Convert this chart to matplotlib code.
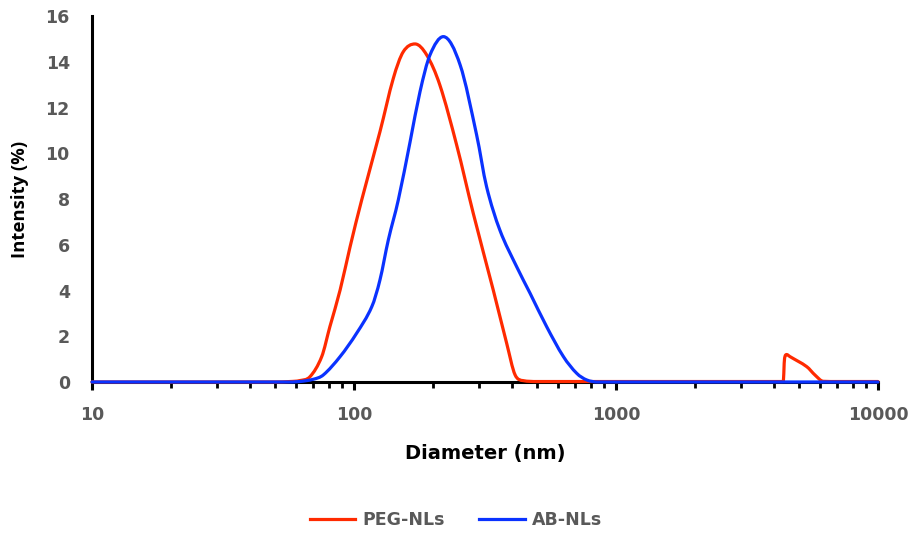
import numpy as np
import matplotlib.pyplot as plt
from matplotlib.path import Path
from matplotlib.patches import PathPatch
from matplotlib.lines import Line2D
from matplotlib.ticker import LogLocator, NullFormatter, FixedLocator

plt.rcParams["font.family"] = ["DejaVu Sans"]
plt.rcParams["font.weight"] = "bold"

# size distribution by intensity (nm, %)
peg_d = [10, 30, 50, 57, 62, 67.9, 75.3, 80.9, 88.5, 96.6, 107, 125.6, 141.3,
         154.2, 171, 189.4, 212.7, 246.5, 285.3, 340, 382.6, 412, 442, 500,
         1000, 2000, 4300, 4355, 4385, 4416, 4478, 4613, 5346, 5754, 6180,
         7000, 10000]
peg_i = [0, 0, 0, 0.02, 0.06, 0.23, 1.11, 2.42, 4.02, 5.91, 7.96, 10.94, 13.28,
         14.44, 14.78, 14.3, 12.98, 10.36, 7.37, 4.02, 1.69, 0.31, 0.06, 0.02,
         0.02, 0.02, 0.02, 0.05, 0.82, 1.12, 1.2, 1.11, 0.67, 0.3, 0.03,
         0.02, 0.02]

ab_d = [10, 30, 55, 62, 70, 76.4, 88.5, 102.3, 116.9, 125.6, 135.2, 147.6,
        163.7, 178.6, 195, 219.3, 254.2, 293.8, 320.6, 360.4, 417.7, 469.9,
        543.6, 629.9, 708, 773, 850, 1000, 3000, 10000]
ab_i = [0, 0, 0, 0.02, 0.12, 0.31, 1.11, 2.13, 3.29, 4.46, 6.21, 7.96, 10.5,
        12.69, 14.3, 15.1, 13.86, 10.8, 8.54, 6.64, 5.04, 3.88, 2.42, 1.11,
        0.38, 0.09, 0.0, 0, 0, 0]

labels = ["PEG-NLs", "AB-NLs"]
colors = ["#ff2a00", "#0a32ff"]
grey = "#595959"


def smooth_path(d, y):
    # cubic Hermite through the points in log10(d), drawn as Bezier segments
    u = np.log10(d)
    v = np.asarray(y, float)
    h = np.diff(u)
    delta = np.diff(v) / h
    m = np.zeros_like(v)
    m[0], m[-1] = delta[0], delta[-1]
    for k in range(1, len(v) - 1):
        if delta[k - 1] * delta[k] > 0:
            c = (v[k + 1] - v[k - 1]) / (u[k + 1] - u[k - 1])
            lim = 3 * min(abs(delta[k - 1]), abs(delta[k]))
            m[k] = np.sign(c) * min(abs(c), lim)
    verts = [(u[0], v[0])]
    codes = [Path.MOVETO]
    for k in range(len(v) - 1):
        verts += [(u[k] + h[k] / 3, v[k] + m[k] * h[k] / 3),
                  (u[k + 1] - h[k] / 3, v[k + 1] - m[k + 1] * h[k] / 3),
                  (u[k + 1], v[k + 1])]
        codes += [Path.CURVE4] * 3
    verts = np.array(verts)
    verts[:, 0] = 10 ** verts[:, 0]
    return Path(verts, codes)


fig = plt.figure(figsize=(9.12, 5.35), dpi=100)
ax = fig.add_axes([0.1009, 0.286, 0.8618, 0.684])

ax.set_xscale("log")
ax.set_xlim(10, 10000)
ax.set_ylim(0, 16)

for d, y, c in [(peg_d, peg_i, colors[0]), (ab_d, ab_i, colors[1])]:
    ax.add_patch(PathPatch(smooth_path(d, y), facecolor="none", edgecolor=c,
                           lw=2.3, joinstyle="round", capstyle="round",
                           clip_on=False, zorder=3))

ax.xaxis.set_major_locator(FixedLocator([10, 100, 1000, 10000]))
ax.xaxis.set_major_formatter(plt.FuncFormatter(lambda v, p: f"{int(v)}"))
ax.xaxis.set_minor_locator(LogLocator(base=10, subs=range(2, 10)))
ax.xaxis.set_minor_formatter(NullFormatter())
ax.set_yticks(range(0, 17, 2))

for s in ["top", "right"]:
    ax.spines[s].set_visible(False)
for s in ["left", "bottom"]:
    ax.spines[s].set_linewidth(2.2)
    ax.spines[s].set_color("black")

ax.tick_params(axis="x", which="major", direction="out", length=6, width=2.2,
               labelsize=12.5, labelcolor=grey, pad=11)
ax.tick_params(axis="x", which="minor", direction="out", length=4, width=2)
ax.tick_params(axis="y", length=0, labelsize=12.5, labelcolor=grey, pad=16)

ax.set_xlabel("Diameter (nm)", fontsize=14, fontweight="bold", labelpad=15)
ax.set_ylabel("Intensity (%)", fontsize=13.3, fontweight="bold", labelpad=12,
              family=["Open Sans", "DejaVu Sans"])

handles = [Line2D([], [], color=c, lw=2.3) for c in colors]
fig.legend(handles, labels, loc="center", bbox_to_anchor=(0.5, 0.028), ncol=2,
           frameon=False, fontsize=12.5, labelcolor=grey, handlelength=2.6,
           columnspacing=2.0, handletextpad=0.4)

fig.savefig("out.png", dpi=100)
